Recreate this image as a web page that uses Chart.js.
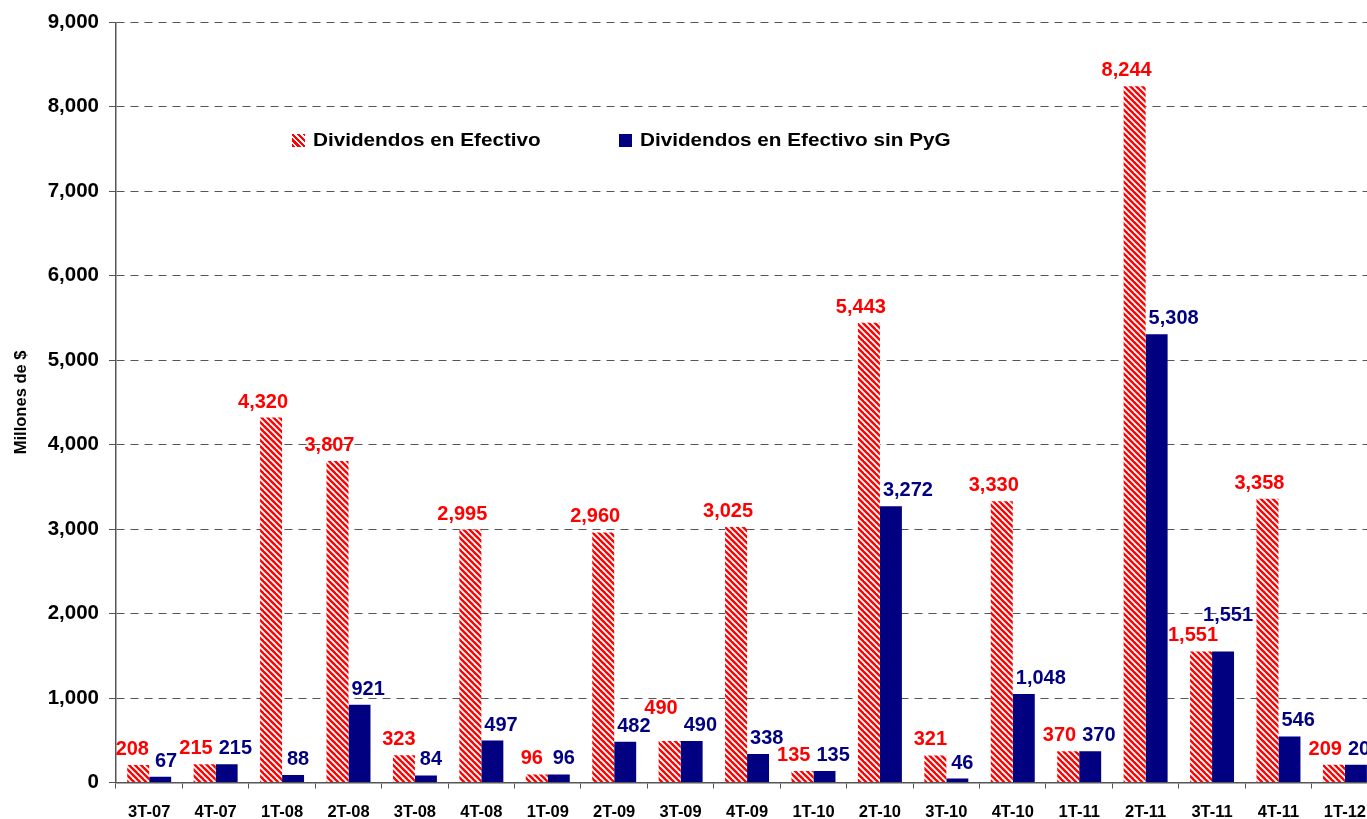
<!DOCTYPE html>
<html>
<head>
<meta charset="utf-8">
<script src="https://cdn.jsdelivr.net/npm/chart.js@4"></script>
<style>
  body { margin: 0; overflow: hidden; background: #fff; font-family: "Liberation Sans", Arial, sans-serif; }
  #wrap { position: relative; width: 1380px; height: 819px; }
  .leg { position: absolute; top: 128px; height: 24px; line-height: 24px; font-weight: bold; font-size: 18px; color: #000; white-space: nowrap; }
  .sw { position: absolute; left: 0; top: 6px; width: 13px; height: 13px; }
  .txt { position: absolute; left: 21px; top: 0; display: inline-block; transform: scaleX(1.15); transform-origin: left center; }
</style>
</head>
<body>
<div id="wrap">
  <canvas id="chart" width="1380" height="819"></canvas>
  <div class="leg" style="left:292px"><span class="sw" style="background:repeating-linear-gradient(45deg,#ff0000 0 2.2px,#fff 2.2px 4.2px)"></span><span class="txt">Dividendos en Efectivo</span></div>
  <div class="leg" style="left:619px"><span class="sw" style="background:#000080"></span><span class="txt">Dividendos en Efectivo sin PyG</span></div>
</div>
<script>
// data
let quarters = ["3T-07","4T-07","1T-08","2T-08","3T-08","4T-08","1T-09","2T-09","3T-09","4T-09",
                "1T-10","2T-10","3T-10","4T-10","1T-11","2T-11","3T-11","4T-11","1T-12"];
let efectivo = [208, 215, 4320, 3807, 323, 2995, 96, 2960, 490, 3025, 135, 5443, 321, 3330, 370, 8244, 1551, 3358, 209];
let sinPyG   = [67, 215, 88, 921, 84, 497, 96, 482, 490, 338, 135, 3272, 46, 1048, 370, 5308, 1551, 546, 209];
let yTicks   = [0, 1000, 2000, 3000, 4000, 5000, 6000, 7000, 8000, 9000];

const RED = "#ff0000";
const NAVY = "#000080";
const FONT = '"Liberation Sans", Arial, sans-serif';

// red/white diagonal hatch
function hatch() {
  let c = document.createElement("canvas");
  c.width = 6; c.height = 6;
  let g = c.getContext("2d");
  g.fillStyle = "#fff";
  g.fillRect(0, 0, 6, 6);
  g.strokeStyle = RED;
  g.lineWidth = 2.4;
  for (let k = -1; k <= 1; k++) {
    g.beginPath();
    g.moveTo(k * 6 - 1, -1);
    g.lineTo(k * 6 + 7, 7);
    g.stroke();
  }
  return g.createPattern(c, "repeat");
}

function fmt(v) {
  return v.toLocaleString("en-US");
}

function hits(a, b) {
  return Math.abs(a.y - b.y) < 14 && a.x - a.w / 2 < b.x + b.w / 2 && b.x - b.w / 2 < a.x + a.w / 2;
}

// value labels over bars
const barLabels = {
  id: "barLabels",
  afterDatasetsDraw(chart) {
    let ctx = chart.ctx;
    let m0 = chart.getDatasetMeta(0);
    let m1 = chart.getDatasetMeta(1);
    ctx.save();
    ctx.font = "bold 20px " + FONT;
    ctx.textBaseline = "alphabetic";
    ctx.textAlign = "center";
    let reds = [], blues = [];
    m0.data.forEach((bar, i) => {
      let red = bar.getProps(["x", "y", "width"], true);
      let blue = m1.data[i].getProps(["x", "y", "width"], true);
      let t0 = fmt(efectivo[i]);
      let t1 = fmt(sinPyG[i]);
      let w0 = ctx.measureText(t0).width;
      let w1 = ctx.measureText(t1).width;
      let ry = red.y - 10;
      let by = blue.y - 10;

      // red label: a little left of its bar, not past the bar's right edge + 6
      let rx = Math.min(red.x - 5, red.x + red.width / 2 + 6 - w0 / 2);
      let bx = blue.x + 5;
      let close = Math.abs(ry - by) < 18;

      if (close && (rx + w0 / 2) > (bx - w1 / 2) && w0 + w1 > 80) {
        by = Math.min(by, ry) - 20;   // wide labels: lift the blue one
      } else {
        // blue label beside a taller red bar: keep it off the red bar
        if (red.y < by) bx = Math.max(bx, blue.x - blue.width / 2 + 3 + w1 / 2);
        let need = (rx + w0 / 2) - (bx - w1 / 2) + 6;
        if (close && need > 0) {
          rx -= need / 2;
          bx += need / 2;
        }
      }
      reds.push({ t: t0, x: rx, y: ry, w: w0 });
      blues.push({ t: t1, x: bx, y: by, w: w1 });
    });
    // red label running into the previous quarter's blue label: lift it
    for (let i = 1; i < reds.length; i++) {
      if (hits(reds[i], blues[i - 1])) reds[i].y = blues[i - 1].y - 18;
    }
    reds.forEach(l => { ctx.fillStyle = RED; ctx.fillText(l.t, l.x, l.y); });
    blues.forEach(l => { ctx.fillStyle = NAVY; ctx.fillText(l.t, l.x, l.y); });
    ctx.restore();
  }
};

new Chart(document.getElementById("chart"), {
  type: "bar",
  data: {
    labels: quarters,
    datasets: [
      { label: "Dividendos en Efectivo", data: efectivo, backgroundColor: hatch(), borderWidth: 0 },
      { label: "Dividendos en Efectivo sin PyG", data: sinPyG, backgroundColor: NAVY, borderWidth: 0 }
    ]
  },
  options: {
    responsive: false,
    animation: false,
    layout: { padding: { top: 14.7, right: 0, left: 0, bottom: 0 } },
    datasets: { bar: { categoryPercentage: 0.662, barPercentage: 1.0 } },
    plugins: {
      legend: { display: false },
      tooltip: { enabled: false }
    },
    scales: {
      x: {
        grid: { display: true, drawOnChartArea: false, offset: true, color: "#555", tickLength: 6 },
        border: { color: "#555", width: 1.5 },
        ticks: { color: "#000", font: { family: FONT, size: 16.5, weight: "bold" }, padding: 14, maxRotation: 0 },
        afterFit: s => { s.height = 36.5; }
      },
      y: {
        min: 0,
        max: 9000,
        afterBuildTicks: s => { s.ticks = yTicks.map(v => ({ value: v })); },
        grid: { color: "#555", tickLength: 7, tickBorderDash: [], tickColor: "#555" },
        border: { color: "#555", width: 1.5, dash: [8, 6] },
        ticks: { color: "#000", font: { family: FONT, size: 20.5, weight: "bold" }, padding: 10, callback: v => fmt(v) },
        title: { display: true, text: "Millones de $", color: "#000", font: { family: FONT, size: 16.5, weight: "bold" }, padding: { top: 12, bottom: 0 } },
        afterFit: s => { s.width = 116; }
      }
    }
  },
  plugins: [barLabels]
});
</script>
</body>
</html>
